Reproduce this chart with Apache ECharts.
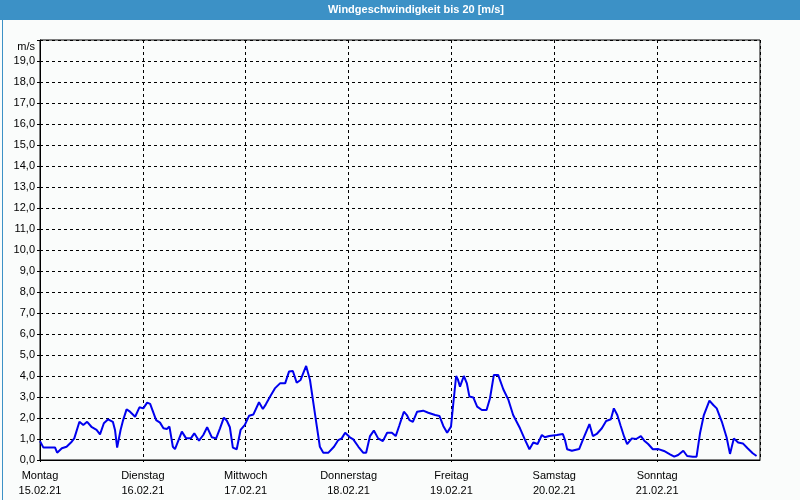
<!DOCTYPE html>
<html>
<head>
<meta charset="utf-8">
<script src="https://cdn.jsdelivr.net/npm/echarts@6/dist/echarts.min.js"></script>
<style>
html,body{margin:0;padding:0;background:#fafcfb;}
#c{width:800px;height:500px;}
</style>
</head>
<body>
<div id="c"></div>
<script>
const titleText = 'Windgeschwindigkeit bis 20 [m/s]';
const unitLabel = 'm/s';
const dayNames = ['Montag','Dienstag','Mittwoch','Donnerstag','Freitag','Samstag','Sonntag'];
const dayDates = ['15.02.21','16.02.21','17.02.21','18.02.21','19.02.21','20.02.21','21.02.21'];
// hours since Monday 00:00
const hours = [0,0.8,2.7,3.1,3.5,4.0,5.1,6.2,7.4,8.0,9.2,10.1,11.0,12.1,13.2,14.0,14.9,15.9,17.0,17.5,18.0,18.8,19.4,20.2,21.0,22.2,23.2,24.1,25.0,25.7,27.1,28.0,28.8,29.6,30.2,31.0,31.5,31.9,33.1,34.1,35.2,36.0,37.1,38.1,39.0,40.1,41.1,42.0,42.9,43.6,44.3,45.0,45.9,46.8,47.8,48.8,49.8,51.1,52.0,52.7,53.7,54.8,56.0,57.2,58.1,59.0,59.9,60.8,62.1,63.0,63.8,64.6,65.3,66.1,67.3,68.6,69.6,70.4,71.2,72.3,73.1,74.3,75.4,76.1,77.0,77.9,78.9,80.0,81.0,82.1,83.0,83.8,84.9,85.6,86.2,87.0,88.0,89.4,90.6,92.2,93.2,94.1,95.0,95.9,96.4,97.1,97.5,98.0,98.9,99.6,100.2,101.1,102.0,103.1,104.2,105.0,105.9,106.9,108.1,109.3,110.4,112.0,113.2,114.2,115.1,116.1,117.1,117.8,118.8,120.6,122.0,122.5,123.0,124.1,125.8,126.8,128.2,129.0,129.9,131.1,132.1,133.2,133.9,134.7,135.5,136.3,137.0,138.1,139.1,140.2,141.0,141.9,143.0,144.3,145.6,147.0,148.0,148.9,150.1,151.0,152.3,153.2,154.0,154.9,156.2,157.1,157.9,159.1,160.2,161.0,161.9,162.9,164.0,165.1,166.3,167.2];
const speed = [0.9,0.59,0.6,0.63,0.6,0.35,0.56,0.63,0.87,1.03,1.82,1.67,1.82,1.56,1.43,1.22,1.75,1.94,1.82,1.43,0.59,1.43,1.9,2.41,2.3,2.06,2.51,2.46,2.73,2.67,1.9,1.78,1.51,1.48,1.59,0.63,0.52,0.52,1.35,1.03,1.03,1.27,0.92,1.19,1.56,1.08,1.03,1.51,2.02,1.87,1.56,0.59,0.51,1.43,1.67,2.11,2.17,2.75,2.43,2.65,3.02,3.41,3.65,3.65,4.21,4.24,3.68,3.81,4.48,3.81,2.7,1.59,0.63,0.35,0.35,0.63,0.95,1.03,1.3,1.08,0.98,0.63,0.35,0.35,1.14,1.4,1.03,0.9,1.3,1.3,1.14,1.62,2.3,2.14,1.9,1.82,2.3,2.35,2.25,2.14,2.1,1.62,1.3,1.59,2.62,4.0,3.84,3.49,4.0,3.65,3.02,2.98,2.54,2.38,2.38,2.94,4.05,4.05,3.37,2.86,2.14,1.51,0.95,0.51,0.83,0.76,1.19,1.08,1.14,1.19,1.24,0.95,0.51,0.44,0.52,1.03,1.71,1.14,1.24,1.51,1.86,1.94,2.46,2.14,1.62,1.11,0.76,1.03,1.0,1.14,0.92,0.76,0.51,0.52,0.43,0.27,0.16,0.24,0.44,0.19,0.16,0.16,1.27,2.14,2.83,2.62,2.46,1.82,1.08,0.29,1.03,0.83,0.79,0.56,0.32,0.19];

const FONT = 'Liberation Sans';
const chart = echarts.init(document.getElementById('c'), null, {renderer:'canvas'});
chart.setOption({
  animation:false,
  backgroundColor:'#fafcfb',
  grid:{left:40,right:40,top:40,bottom:40,show:true,borderColor:'#000',borderWidth:1,backgroundColor:'#fafcfb'},
  xAxis:{
    type:'value',min:0,max:168,interval:24,
    axisLine:{show:true,lineStyle:{color:'#000',width:1}},
    axisTick:{show:true,length:4,lineStyle:{color:'#000',type:[2,2]}},
    splitLine:{show:true,lineStyle:{color:'#000',type:[3,3],width:1}},
    axisLabel:{
      fontFamily:FONT,fontSize:11,color:'#000',margin:8,lineHeight:15,showMaxLabel:false,
      formatter:function(v){const i=Math.round(v/24);if(i>=dayNames.length)return '';return dayNames[i]+'\n'+dayDates[i];}
    }
  },
  yAxis:{
    type:'value',min:0,max:20,interval:1,
    axisLine:{show:true,lineStyle:{color:'#000',width:1}},
    axisTick:{show:true,length:3,lineStyle:{color:'#000'}},
    splitLine:{show:true,lineStyle:{color:'#000',type:[3,3],width:1}},
    axisLabel:{
      fontFamily:FONT,fontSize:11,color:'#000',margin:5,
      formatter:function(v){if(v>=20)return '';return v.toFixed(1).replace('.',',');}
    }
  },
  series:[{
    type:'line',
    data:hours.map((h,i)=>[h,speed[i]]),
    showSymbol:false,symbol:'none',
    lineStyle:{color:'#0000ee',width:2},
    z:5
  }],
  graphic:[
    {type:'rect',left:0,top:0,shape:{width:800,height:20},style:{fill:'#3c91c6'},z:10},
    {type:'rect',left:0,top:0,shape:{x:0.5,y:0.5,width:799,height:499},style:{fill:'none',stroke:'#3c91c6',lineWidth:1},z:10,silent:true},
    {type:'text',x:416,y:10,style:{text:titleText,fill:'#fff',font:'bold 11px "'+FONT+'"',textAlign:'center',textVerticalAlign:'middle'},z:11},
    {type:'text',x:35,y:47,style:{text:unitLabel,fill:'#000',font:'11px "'+FONT+'"',textAlign:'right',textVerticalAlign:'middle'},z:11}
  ]
});
</script>
</body>
</html>
